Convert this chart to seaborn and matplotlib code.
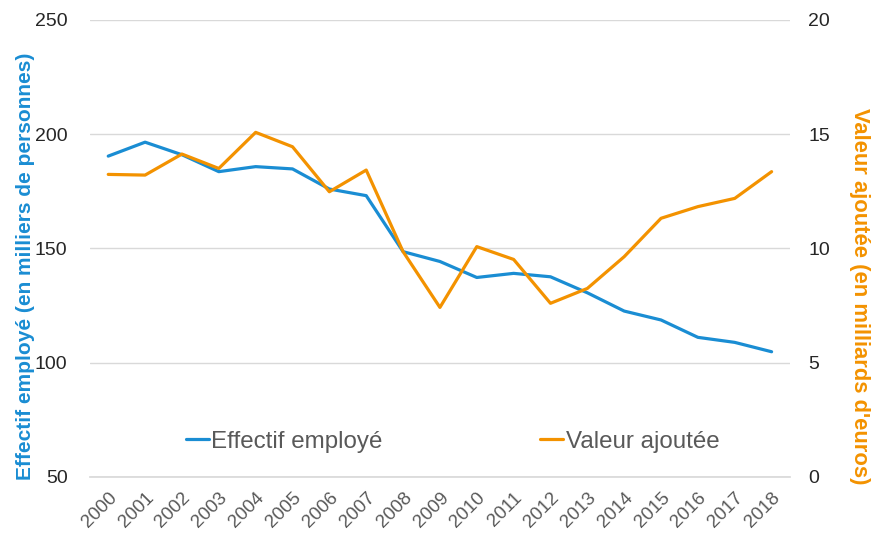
import numpy as np
import pandas as pd
import matplotlib
matplotlib.use("Agg")
import matplotlib.pyplot as plt
import seaborn as sns
from matplotlib.lines import Line2D

# Donnees
annees = list(range(2000, 2019))
effectif = [190.4, 196.5, 191.0, 183.6, 185.8, 184.8, 176.0, 173.1, 148.6, 144.3,
            137.3, 139.1, 137.6, 130.6, 122.6, 118.7, 111.1, 108.9, 104.8]
valeur_ajoutee = [13.24, 13.21, 14.13, 13.50, 15.08, 14.45, 12.48, 13.43, 9.86, 7.42,
                  10.08, 9.52, 7.60, 8.25, 9.64, 11.32, 11.83, 12.19, 13.36]

BLEU = "#1a8dd3"
ORANGE = "#f39200"
GRIS = "#595959"
NOIR = "#262626"

df = pd.DataFrame({"annee": annees, "effectif": effectif, "valeur": valeur_ajoutee})

sns.set_theme(style="white")
plt.rcParams["font.family"] = ["Liberation Sans", "DejaVu Sans"]

fig = plt.figure(figsize=(8.72, 5.38), dpi=100)
ax = fig.add_axes([0.103, 0.1134, 0.803, 0.8496])
ax2 = ax.twinx()

sns.lineplot(data=df, x="annee", y="effectif", ax=ax, color=BLEU, linewidth=2.3)
sns.lineplot(data=df, x="annee", y="valeur", ax=ax2, color=ORANGE, linewidth=2.3)

ax.set_xlim(1999.5, 2018.5)
ax.set_ylim(50, 250)
ax2.set_ylim(0, 20)
ax.set_yticks([50, 100, 150, 200, 250])
ax2.set_yticks([0, 5, 10, 15, 20])

# grille horizontale
ax.yaxis.grid(True, color="#d9d9d9", linewidth=1)
ax.set_axisbelow(True)

for a in (ax, ax2):
    for s in ("left", "right", "top"):
        a.spines[s].set_visible(False)
ax.spines["bottom"].set_color("#d9d9d9")
ax2.spines["bottom"].set_visible(False)

# ticks de l'axe x (traits entre les categories, vers l'interieur)
ax.set_xticks(annees)
ax.set_xticklabels([str(a) for a in annees], rotation=45, ha="right",
                   rotation_mode="anchor", fontsize=13.5, color=GRIS)
ax.set_xticks(np.arange(1999.5, 2019.0, 1.0), minor=True)
ax.tick_params(axis="x", which="major", length=0, pad=9)
ax.tick_params(axis="x", which="minor", direction="in", length=5,
               color="#d9d9d9", width=1)
ax.tick_params(axis="y", length=0, labelsize=14, labelcolor=NOIR, pad=16)
ax2.tick_params(axis="y", length=0, labelsize=14, labelcolor=NOIR, pad=13)

ax.set_xlabel("")
ax.set_ylabel("Effectif employé (en milliers de personnes)", color=BLEU,
              fontsize=15, fontweight="bold", va="bottom")
ax.yaxis.set_label_coords(-0.078, 0.46)
ax2.set_ylabel("Valeur ajoutée (en milliards d'euros)", color=ORANGE,
               fontsize=15.8, fontweight="bold", rotation=270, va="bottom")
ax2.yaxis.set_label_coords(1.084, 0.396)

handles = [Line2D([], [], color=BLEU, linewidth=2.3),
           Line2D([], [], color=ORANGE, linewidth=2.3)]
leg = ax.legend(handles, ["Effectif employé", "Valeur ajoutée"], loc="center",
                bbox_to_anchor=(0.518, 0.077), ncol=2, frameon=False,
                fontsize=17.4, handlelength=0.95, handletextpad=0.12,
                columnspacing=6.5)
for t in leg.get_texts():
    t.set_color(GRIS)

fig.savefig("out.png", dpi=100)
plt.close(fig)
